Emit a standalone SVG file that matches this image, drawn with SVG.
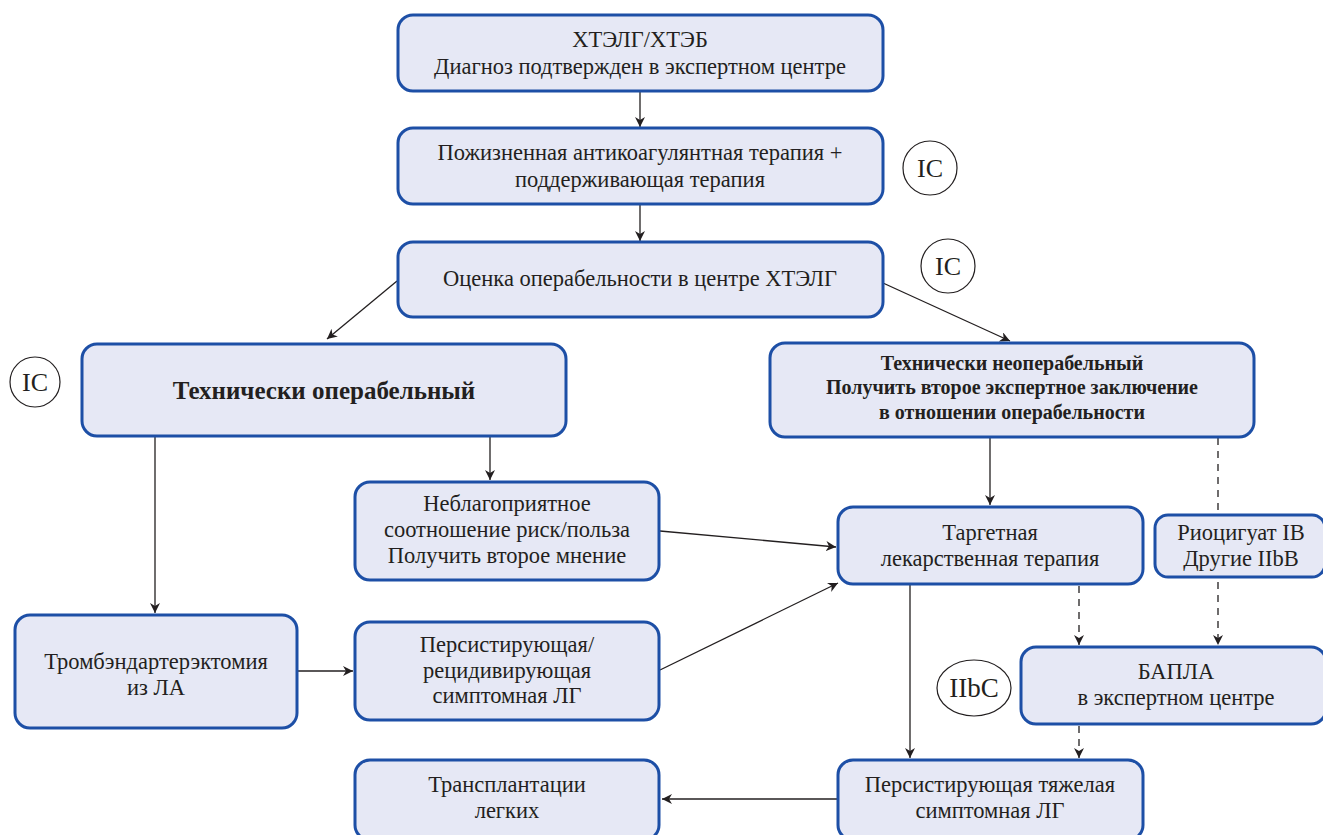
<svg xmlns="http://www.w3.org/2000/svg" width="1323" height="835" viewBox="0 0 1323 835">
<style>
.box{fill:#e6e8f5;stroke:#1d4fa6;stroke-width:3}
.t{font-family:"Liberation Serif","Times New Roman",serif;font-size:22.5px;fill:#231f20;text-anchor:middle}
.b{font-weight:bold}
.c{fill:#fff;stroke:#231f20;stroke-width:1.2}
.ln{stroke:#231f20;stroke-width:1.3;fill:none}
.d{stroke-dasharray:7 6}
</style>
<defs>
<marker id="ah" viewBox="0 0 10 10" refX="10" refY="5" markerWidth="10" markerHeight="10" markerUnits="userSpaceOnUse" orient="auto">
<path d="M0,0 L10,5 L0,10 L3,5 Z" fill="#231f20"/>
</marker>
</defs>
<rect width="1323" height="835" fill="#fff"/>
<g id="connectors">
<line class="ln" x1="640" y1="91" x2="640" y2="127" marker-end="url(#ah)"/>
<line class="ln" x1="640" y1="204" x2="640" y2="241" marker-end="url(#ah)"/>
<line class="ln" x1="397" y1="281" x2="327" y2="339" marker-end="url(#ah)"/>
<line class="ln" x1="883" y1="283" x2="1010" y2="341" marker-end="url(#ah)"/>
<line class="ln" x1="155" y1="437" x2="155" y2="613" marker-end="url(#ah)"/>
<line class="ln" x1="490" y1="437" x2="490" y2="480" marker-end="url(#ah)"/>
<line class="ln" x1="990" y1="438" x2="990" y2="505" marker-end="url(#ah)"/>
<line class="ln d" x1="1218" y1="438" x2="1218" y2="510"/>
<line class="ln" x1="660" y1="531" x2="836" y2="547" marker-end="url(#ah)"/>
<line class="ln" x1="660" y1="670" x2="838" y2="583" marker-end="url(#ah)"/>
<line class="ln" x1="298" y1="671" x2="353" y2="671" marker-end="url(#ah)"/>
<line class="ln" x1="910" y1="585" x2="910" y2="758" marker-end="url(#ah)"/>
<line class="ln d" x1="1079" y1="586" x2="1079" y2="645" marker-end="url(#ah)"/>
<line class="ln d" x1="1218" y1="582" x2="1218" y2="645" marker-end="url(#ah)"/>
<line class="ln d" x1="1079" y1="726" x2="1079" y2="758" marker-end="url(#ah)"/>
<line class="ln" x1="838" y1="799" x2="662" y2="799" marker-end="url(#ah)"/>
</g>
<g id="n1"><rect class="box" x="398" y="15" width="485" height="76" rx="15"/>
<text class="t" x="640" y="47">ХТЭЛГ/ХТЭБ</text>
<text class="t" x="640" y="74">Диагноз подтвержден в экспертном центре</text></g>
<g id="n2"><rect class="box" x="398" y="128" width="485" height="76" rx="15"/>
<text class="t" x="640" y="160">Пожизненная антикоагулянтная терапия +</text>
<text class="t" x="640" y="187">поддерживающая терапия</text></g>
<g id="n3"><rect class="box" x="398" y="242" width="485" height="75" rx="15"/>
<text class="t" x="640" y="286">Оценка операбельности в центре ХТЭЛГ</text></g>
<g id="n4"><rect class="box" x="82" y="344" width="484" height="92" rx="15"/>
<text class="t b" x="324" y="399" style="font-size:25px">Технически операбельный</text></g>
<g id="n5"><rect class="box" x="770" y="343" width="484" height="94" rx="15"/>
<text class="t b" x="1012" y="370" style="font-size:20px">Технически неоперабельный</text>
<text class="t b" x="1012" y="394" style="font-size:20px">Получить второе экспертное заключение</text>
<text class="t b" x="1012" y="419" style="font-size:20px">в отношении операбельности</text></g>
<g id="n6"><rect class="box" x="355" y="482" width="304" height="98" rx="15"/>
<text class="t" x="507" y="511">Неблагоприятное</text>
<text class="t" x="507" y="537">соотношение риск/польза</text>
<text class="t" x="507" y="563">Получить второе мнение</text></g>
<g id="n7"><rect class="box" x="838" y="507" width="305" height="77" rx="15"/>
<text class="t" x="990" y="540">Таргетная</text>
<text class="t" x="990" y="566">лекарственная терапия</text></g>
<g id="n8"><rect class="box" x="1155" y="515" width="170" height="62" rx="13"/>
<text class="t" x="1241" y="540">Риоцигуат IB</text>
<text class="t" x="1241" y="566">Другие IIbB</text></g>
<g id="n9"><rect class="box" x="15" y="615" width="282" height="113" rx="15"/>
<text class="t" x="156" y="669">Тромбэндартерэктомия</text>
<text class="t" x="156" y="695">из ЛА</text></g>
<g id="n10"><rect class="box" x="355" y="622" width="304" height="98" rx="15"/>
<text class="t" x="507" y="652">Персистирующая/</text>
<text class="t" x="507" y="678">рецидивирующая</text>
<text class="t" x="507" y="703">симптомная ЛГ</text></g>
<g id="n11"><rect class="box" x="1021" y="647" width="305" height="77" rx="15"/>
<text class="t" x="1176" y="679">БАПЛА</text>
<text class="t" x="1176" y="705">в экспертном центре</text></g>
<g id="n12"><rect class="box" x="838" y="760" width="305" height="80" rx="15"/>
<text class="t" x="990" y="792">Персистирующая тяжелая</text>
<text class="t" x="990" y="818">симптомная ЛГ</text></g>
<g id="n13"><rect class="box" x="355" y="760" width="304" height="80" rx="15"/>
<text class="t" x="507" y="792">Трансплантации</text>
<text class="t" x="507" y="818">легких</text></g>
<g id="l1"><circle class="c" cx="930" cy="168" r="27"/><text class="t" x="930" y="177" style="font-size:26px">IC</text></g>
<g id="l2"><circle class="c" cx="948" cy="266" r="27"/><text class="t" x="948" y="275" style="font-size:26px">IC</text></g>
<g id="l3"><circle class="c" cx="35" cy="382" r="25"/><text class="t" x="35" y="391" style="font-size:26px">IC</text></g>
<g id="l4"><ellipse class="c" cx="974" cy="688" rx="37" ry="28"/><text class="t" x="974" y="697" style="font-size:27px">IIbC</text></g>
</svg>
